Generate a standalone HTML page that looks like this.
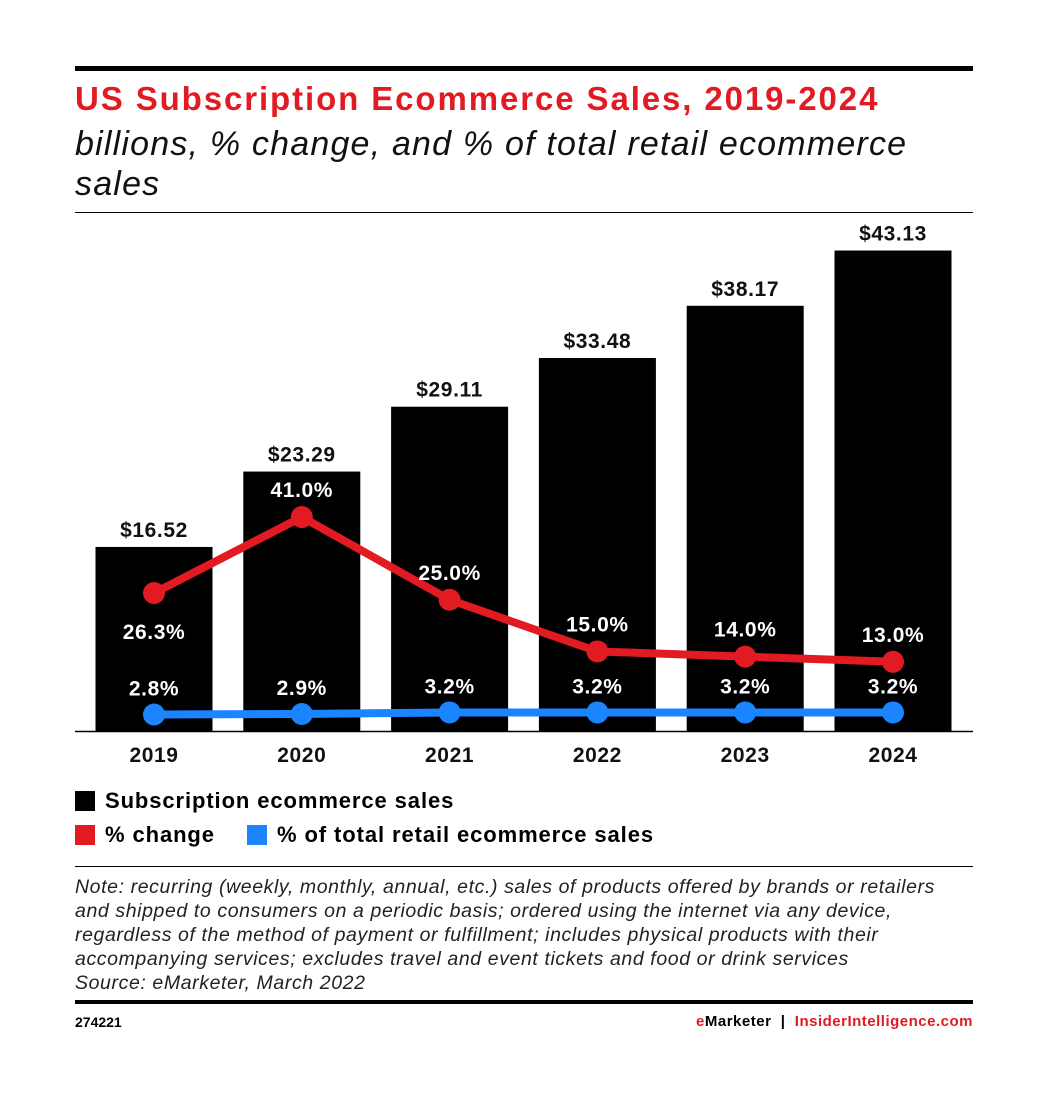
<!DOCTYPE html>
<html><head><meta charset="utf-8"><style>
body{margin:0;background:#fff;width:1046px;height:1096px;overflow:hidden;font-family:"Liberation Sans",Arial,sans-serif}
.abs{position:absolute}
</style></head><body>
<div style="position:relative;width:1046px;height:1096px">
<div class="abs" style="left:75px;top:66px;width:898px;height:5px;background:#000"></div>
<div class="abs" style="left:75px;top:80px;font-size:33px;letter-spacing:1.9px;font-weight:bold;color:#e21a22;white-space:nowrap">US Subscription Ecommerce Sales, 2019-2024</div>
<div class="abs" style="left:75px;top:124px;font-size:34px;letter-spacing:1.2px;font-style:italic;line-height:40px;color:#111;width:900px;white-space:nowrap">billions, % change, and % of total retail ecommerce<br>sales</div>
<div class="abs" style="left:75px;top:212px;width:898px;height:1px;background:#000"></div>
<svg class="abs" style="left:0;top:0" width="1046" height="1096">
<g id="g"></g>
</svg>
<div class="abs" style="left:75px;top:788px;font-size:22px;letter-spacing:0.9px;font-weight:bold;white-space:nowrap"><span style="display:inline-block;width:20px;height:20px;background:#000;vertical-align:-3px;margin-right:10px"></span>Subscription ecommerce sales</div>
<div class="abs" style="left:75px;top:822px;font-size:22px;letter-spacing:0.9px;font-weight:bold;white-space:nowrap"><span style="display:inline-block;width:20px;height:20px;background:#e21a22;vertical-align:-3px;margin-right:10px"></span>% change</div>
<div class="abs" style="left:247px;top:822px;font-size:22px;letter-spacing:0.9px;font-weight:bold;white-space:nowrap"><span style="display:inline-block;width:20px;height:20px;background:#1a85ff;vertical-align:-3px;margin-right:10px"></span>% of total retail ecommerce sales</div>
<div class="abs" style="left:75px;top:866px;width:898px;height:1px;background:#000"></div>
<div class="abs" style="left:75px;top:875px;font-size:19.5px;letter-spacing:0.6px;font-style:italic;line-height:24px;color:#222;width:960px;white-space:nowrap">Note: recurring (weekly, monthly, annual, etc.) sales of products offered by brands or retailers<br>and shipped to consumers on a periodic basis; ordered using the internet via any device,<br>regardless of the method of payment or fulfillment; includes physical products with their<br>accompanying services; excludes travel and event tickets and food or drink services<br>Source: eMarketer, March 2022</div>
<div class="abs" style="left:75px;top:1000px;width:898px;height:4px;background:#000"></div>
<div class="abs" style="left:75px;top:1014px;font-size:14px;font-weight:bold">274221</div>
<div class="abs" style="right:73px;top:1013px;font-size:15px;letter-spacing:0.5px;font-weight:bold;white-space:nowrap"><span style="color:#e21a22">e</span>Marketer &nbsp;| &nbsp;<span style="color:#e21a22">InsiderIntelligence.com</span></div>
</div>
<script>
const years=["2019","2020","2021","2022","2023","2024"];
const sales=[16.52,23.29,29.11,33.48,38.17,43.13];
const change=[26.3,41.0,25.0,15.0,14.0,13.0];
const share=[2.8,2.9,3.2,3.2,3.2,3.2];
const salesLabels=["$16.52","$23.29","$29.11","$33.48","$38.17","$43.13"];
const changeAbove=[false,true,true,true,true,true];
const NS="http://www.w3.org/2000/svg";
const g=document.getElementById('g');
const base=731;
const xC=i=>154+i*147.8;
const yBar=v=>base-v*11.14;
const yPct=v=>729-v*5.17;
function mk(t,a){const e=document.createElementNS(NS,t);for(const k in a)e.setAttribute(k,a[k]);g.appendChild(e);return e;}
function txt(x,y,s,size){const e=mk('text',{x:x,y:y,'text-anchor':'middle','font-size':size||21,'letter-spacing':0.6,'font-weight':'bold','font-family':'Liberation Sans, Arial, sans-serif',fill:'#111'});e.textContent=s;return e;}
sales.forEach((v,i)=>{
const r=mk('rect',{x:xC(i)-58.5,y:yBar(v),width:117,height:base-yBar(v),fill:'#000'});


const t=txt(xC(i),yBar(v)-10,salesLabels[i]);


const xl=txt(xC(i),762,years[i]);


});
const ax=mk('line',{x1:75,x2:973,y1:base+0.5,y2:base+0.5,stroke:'#000','stroke-width':1.5});


const bl=mk('polyline',{points:share.map((v,i)=>xC(i)+','+yPct(v)).join(' '),fill:'none',stroke:'#1a85ff','stroke-width':8});


const rl=mk('polyline',{points:change.map((v,i)=>xC(i)+','+yPct(v)).join(' '),fill:'none',stroke:'#e21a22','stroke-width':8,'stroke-linejoin':'round'});


share.forEach((v,i)=>{
const c=mk('circle',{cx:xC(i),cy:yPct(v),r:11,fill:'#1a85ff'});


const t=txt(xC(i),yPct(v)-19,v.toFixed(1)+'%');t.setAttribute('fill','#fff');


});
change.forEach((v,i)=>{
const c=mk('circle',{cx:xC(i),cy:yPct(v),r:11,fill:'#e21a22'});


const y=changeAbove[i]?yPct(v)-20:yPct(v)+46;
const t=txt(xC(i),y,v.toFixed(1)+'%');t.setAttribute('fill','#fff');


});
</script>
</body></html>
